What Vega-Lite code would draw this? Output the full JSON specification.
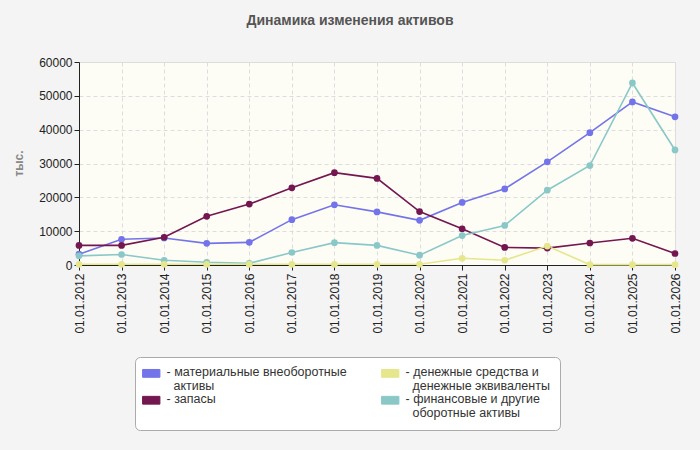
{
  "$schema": "https://vega.github.io/schema/vega-lite/v6.json",
  "width": 596,
  "height": 203,
  "autosize": {"type": "none"},
  "padding": {"left": 79, "top": 62, "right": 25, "bottom": 185},
  "background": "#F4F4F4",
  "title": {
    "text": "Динамика изменения активов",
    "font": "Liberation Sans",
    "fontSize": 14,
    "fontWeight": "bold",
    "color": "#555555",
    "anchor": "middle",
    "dx": -27,
    "offset": 28
  },
  "config": {
    "view": {"stroke": "#dddddd", "fill": "#FDFDF6"},
    "axis": {
      "labelFont": "Liberation Sans",
      "labelFontSize": 12,
      "labelColor": "#222222",
      "domainColor": "#222222",
      "tickColor": "#222222",
      "tickSize": 5,
      "gridColor": "#dddddd",
      "gridDash": [4, 3],
      "titleFont": "Liberation Sans"
    }
  },
  "data": {
    "values": [
      {"date": "01.01.2012", "series": "материальные внеоборотные активы", "value": 3200},
      {"date": "01.01.2013", "series": "материальные внеоборотные активы", "value": 7600},
      {"date": "01.01.2014", "series": "материальные внеоборотные активы", "value": 8000},
      {"date": "01.01.2015", "series": "материальные внеоборотные активы", "value": 6400},
      {"date": "01.01.2016", "series": "материальные внеоборотные активы", "value": 6700},
      {"date": "01.01.2017", "series": "материальные внеоборотные активы", "value": 13400},
      {"date": "01.01.2018", "series": "материальные внеоборотные активы", "value": 17800},
      {"date": "01.01.2019", "series": "материальные внеоборотные активы", "value": 15700},
      {"date": "01.01.2020", "series": "материальные внеоборотные активы", "value": 13200},
      {"date": "01.01.2021", "series": "материальные внеоборотные активы", "value": 18500},
      {"date": "01.01.2022", "series": "материальные внеоборотные активы", "value": 22500},
      {"date": "01.01.2023", "series": "материальные внеоборотные активы", "value": 30500},
      {"date": "01.01.2024", "series": "материальные внеоборотные активы", "value": 39100},
      {"date": "01.01.2025", "series": "материальные внеоборотные активы", "value": 48200},
      {"date": "01.01.2026", "series": "материальные внеоборотные активы", "value": 43800},
      {"date": "01.01.2012", "series": "запасы", "value": 5800},
      {"date": "01.01.2013", "series": "запасы", "value": 5800},
      {"date": "01.01.2014", "series": "запасы", "value": 8200},
      {"date": "01.01.2015", "series": "запасы", "value": 14400},
      {"date": "01.01.2016", "series": "запасы", "value": 18000},
      {"date": "01.01.2017", "series": "запасы", "value": 22800},
      {"date": "01.01.2018", "series": "запасы", "value": 27300},
      {"date": "01.01.2019", "series": "запасы", "value": 25600},
      {"date": "01.01.2020", "series": "запасы", "value": 15800},
      {"date": "01.01.2021", "series": "запасы", "value": 10700},
      {"date": "01.01.2022", "series": "запасы", "value": 5200},
      {"date": "01.01.2023", "series": "запасы", "value": 5000},
      {"date": "01.01.2024", "series": "запасы", "value": 6500},
      {"date": "01.01.2025", "series": "запасы", "value": 7900},
      {"date": "01.01.2026", "series": "запасы", "value": 3400},
      {"date": "01.01.2012", "series": "финансовые и другие оборотные активы", "value": 2700},
      {"date": "01.01.2013", "series": "финансовые и другие оборотные активы", "value": 3100},
      {"date": "01.01.2014", "series": "финансовые и другие оборотные активы", "value": 1400},
      {"date": "01.01.2015", "series": "финансовые и другие оборотные активы", "value": 800},
      {"date": "01.01.2016", "series": "финансовые и другие оборотные активы", "value": 500},
      {"date": "01.01.2017", "series": "финансовые и другие оборотные активы", "value": 3700},
      {"date": "01.01.2018", "series": "финансовые и другие оборотные активы", "value": 6600},
      {"date": "01.01.2019", "series": "финансовые и другие оборотные активы", "value": 5800},
      {"date": "01.01.2020", "series": "финансовые и другие оборотные активы", "value": 2900},
      {"date": "01.01.2021", "series": "финансовые и другие оборотные активы", "value": 8700},
      {"date": "01.01.2022", "series": "финансовые и другие оборотные активы", "value": 11700},
      {"date": "01.01.2023", "series": "финансовые и другие оборотные активы", "value": 22100},
      {"date": "01.01.2024", "series": "финансовые и другие оборотные активы", "value": 29400},
      {"date": "01.01.2025", "series": "финансовые и другие оборотные активы", "value": 53800},
      {"date": "01.01.2026", "series": "финансовые и другие оборотные активы", "value": 34000},
      {"date": "01.01.2012", "series": "денежные средства и денежные эквиваленты", "value": 200},
      {"date": "01.01.2013", "series": "денежные средства и денежные эквиваленты", "value": 200},
      {"date": "01.01.2014", "series": "денежные средства и денежные эквиваленты", "value": 200},
      {"date": "01.01.2015", "series": "денежные средства и денежные эквиваленты", "value": 200},
      {"date": "01.01.2016", "series": "денежные средства и денежные эквиваленты", "value": 200},
      {"date": "01.01.2017", "series": "денежные средства и денежные эквиваленты", "value": 200},
      {"date": "01.01.2018", "series": "денежные средства и денежные эквиваленты", "value": 200},
      {"date": "01.01.2019", "series": "денежные средства и денежные эквиваленты", "value": 200},
      {"date": "01.01.2020", "series": "денежные средства и денежные эквиваленты", "value": 200},
      {"date": "01.01.2021", "series": "денежные средства и денежные эквиваленты", "value": 2000},
      {"date": "01.01.2022", "series": "денежные средства и денежные эквиваленты", "value": 1400},
      {"date": "01.01.2023", "series": "денежные средства и денежные эквиваленты", "value": 5600},
      {"date": "01.01.2024", "series": "денежные средства и денежные эквиваленты", "value": 100},
      {"date": "01.01.2025", "series": "денежные средства и денежные эквиваленты", "value": 100},
      {"date": "01.01.2026", "series": "денежные средства и денежные эквиваленты", "value": 100}
    ]
  },
  "encoding": {
    "x": {
      "field": "date",
      "type": "ordinal",
      "scale": {"type": "point", "padding": 0},
      "axis": {"title": null, "labelAngle": -90, "grid": true, "labelPadding": 3}
    },
    "y": {
      "field": "value",
      "type": "quantitative",
      "scale": {"domain": [0, 60000], "nice": false},
      "axis": {
        "title": "тыс.",
        "values": [0, 10000, 20000, 30000, 40000, 50000, 60000],
        "format": "d",
        "titleColor": "#888888",
        "titleFontSize": 12,
        "titleFontWeight": "bold",
        "titleX": -61,
        "titleY": 101,
        "titleAlign": "center",
        "titleBaseline": "middle"
      }
    },
    "color": {
      "field": "series",
      "type": "nominal",
      "scale": {
        "domain": ["материальные внеоборотные активы", "запасы", "денежные средства и денежные эквиваленты", "финансовые и другие оборотные активы"],
        "range": ["#7474EA", "#741650", "#E6E68C", "#8AC8C8"]
      },
      "legend": {
        "orient": "none",
        "legendX": 56,
        "legendY": 295,
        "columns": 2,
        "title": null,
        "fillColor": "white",
        "strokeColor": "#aaaaaa",
        "cornerRadius": 5,
        "padding": 10,
        "symbolType": "M-2,-0.9H2V0.9H-2Z",
        "symbolSize": 75,
        "labelFont": "Liberation Sans",
        "labelFontSize": 12.5,
        "labelColor": "#333333",
        "labelLimit": 400,
        "labelOffset": 9,
        "columnPadding": 32,
        "rowPadding": 0,
        "labelBaseline": "top",
        "labelExpr": "datum.label == 'материальные внеоборотные активы' ? ['- материальные внеоборотные', '\u200b\u00a0\u00a0активы'] : datum.label == 'денежные средства и денежные эквиваленты' ? ['- денежные средства и', '\u200b\u00a0\u00a0денежные эквиваленты'] : datum.label == 'финансовые и другие оборотные активы' ? ['- финансовые и другие', '\u200b\u00a0\u00a0оборотные активы'] : '- ' + datum.label",
        "encode": {
          "symbols": {"update": {"stroke": {"value": "#999999"}, "strokeWidth": {"value": 1}}},
          "labels": {"update": {"lineHeight": {"value": 14}, "dy": {"value": -7}}}
        }
      }
    }
  },
  "layer": [
    {"mark": {"type": "line", "strokeWidth": 1.6}},
    {"mark": {"type": "point", "filled": true, "size": 45, "opacity": 1}}
  ]
}
